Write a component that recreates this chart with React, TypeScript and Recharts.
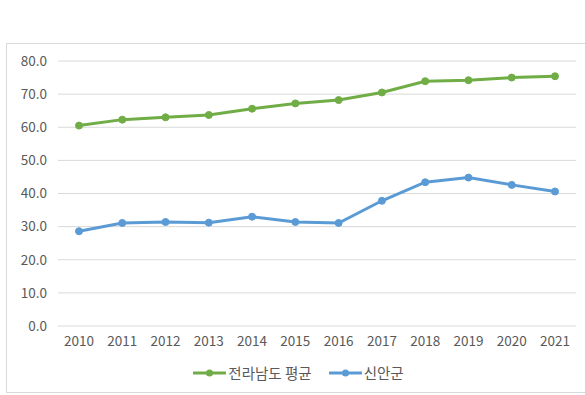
import React from 'react';
import { LineChart, Line, XAxis, YAxis, CartesianGrid, Legend } from 'recharts';

const years = ['2010', '2011', '2012', '2013', '2014', '2015', '2016', '2017', '2018', '2019', '2020', '2021'];
const jeonnamAvg = [60.5, 62.3, 63.0, 63.7, 65.6, 67.2, 68.2, 70.5, 73.9, 74.2, 75.0, 75.4];
const sinan = [28.6, 31.1, 31.4, 31.2, 33.0, 31.4, 31.1, 37.8, 43.4, 44.8, 42.6, 40.6];
const yTicks = [0, 10, 20, 30, 40, 50, 60, 70, 80];

const SERIES = [
    { key: 'avg', name: '전라남도 평균', color: '#70AD47' },
    { key: 'sinan', name: '신안군', color: '#5B9BD5' }
];

const FONT = '"Noto Sans CJK KR", "Noto Sans", sans-serif';

const data = years.map((year, i) => ({ year, avg: jeonnamAvg[i], sinan: sinan[i] }));

function LegendContent() {
    return (
        <div style={{ display: 'flex', justifyContent: 'center', gap: 17, fontFamily: FONT, fontSize: 14.5, color: '#595959', paddingTop: 6, paddingLeft: 14 }}>
            {SERIES.map((s) => (
                <div key={s.key} style={{ display: 'flex', alignItems: 'center' }}>
                    <svg width={33} height={10} style={{ marginRight: 2 }}>
                        <line x1={0} y1={5} x2={33} y2={5} stroke={s.color} strokeWidth={3} />
                        <circle cx={16.5} cy={5} r={3.5} fill={s.color} />
                    </svg>
                    <span>{s.name}</span>
                </div>
            ))}
        </div>
    );
}

export default function App() {
    return (
        <div style={{ position: 'absolute', left: 6, top: 43, width: 600, height: 348, border: '1px solid #d9d9d9', background: '#fff' }}>
            <LineChart width={579} height={348} data={data} margin={{ top: 17, right: 10, bottom: 5, left: 0 }}>
                <CartesianGrid vertical={false} stroke="#d9d9d9" />
                <XAxis
                    dataKey="year"
                    axisLine={false}
                    tickLine={false}
                    tickMargin={4}
                    padding={{ left: 21, right: 21 }}
                    tick={{ fill: '#595959', fontSize: 13.5, fontFamily: FONT }}
                />
                <YAxis
                    width={51}
                    domain={[0, 80]}
                    ticks={yTicks}
                    axisLine={false}
                    tickLine={false}
                    tickMargin={5}
                    tickFormatter={(v: number) => v.toFixed(1)}
                    tick={{ fill: '#595959', fontSize: 13.5, fontFamily: FONT }}
                />
                {SERIES.map((s) => (
                    <Line
                        key={s.key}
                        dataKey={s.key}
                        name={s.name}
                        stroke={s.color}
                        strokeWidth={3}
                        dot={{ r: 3.5, fill: s.color, stroke: s.color, strokeWidth: 1 }}
                        isAnimationActive={false}
                    />
                ))}
                <Legend verticalAlign="bottom" height={31} content={<LegendContent />} />
            </LineChart>
        </div>
    );
}
